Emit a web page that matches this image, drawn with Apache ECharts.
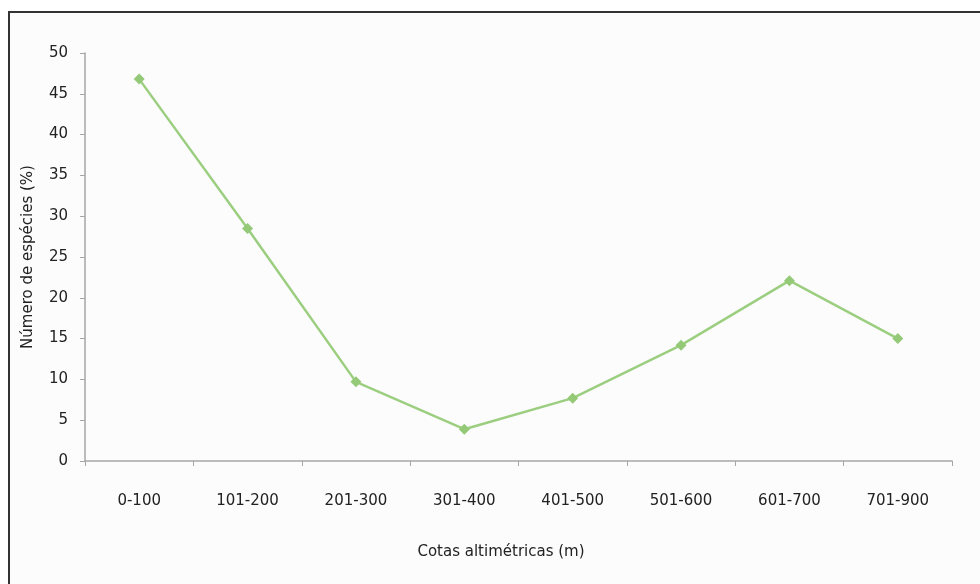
<!DOCTYPE html>
<html>
<head>
<meta charset="utf-8">
<script src="https://cdn.jsdelivr.net/npm/echarts@6/dist/echarts.min.js"></script>
<style>
  html, body { margin: 0; padding: 0; background: #ffffff; }
  #frame {
    position: absolute; left: 8px; top: 11px; width: 972px; height: 573px;
    border-left: 2px solid #333; border-top: 2px solid #333; box-sizing: border-box;
    background: #fcfcfc;
  }
  #chart { position: absolute; left: 0; top: 0; width: 980px; height: 584px; }
</style>
</head>
<body>
<div id="frame"></div>
<div id="chart"></div>
<script>
// Altitude bands and share of species in each band
const categories = ['0-100', '101-200', '201-300', '301-400', '401-500', '501-600', '601-700', '701-900'];
const speciesPct = [46.8, 28.5, 9.7, 3.9, 7.7, 14.2, 22.1, 15.0];
const yTicks = { min: 0, max: 50, interval: 5 };
const xTitle = 'Cotas altimétricas (m)';
const yTitle = 'Número de espécies (%)';

const font = 'DejaVu Sans, Verdana, sans-serif';
const chart = echarts.init(document.getElementById('chart'), null, { renderer: 'canvas' });
chart.setOption({
  animation: false,
  backgroundColor: 'transparent',
  grid: { left: 85, right: 28, top: 53, bottom: 123 },
  xAxis: {
    type: 'category',
    data: categories,
    boundaryGap: true,
    axisLine: { lineStyle: { color: '#a6a6a6', width: 1.5 } },
    axisTick: { show: true, length: 5, lineStyle: { color: '#a6a6a6' } },
    axisLabel: { color: '#222', fontFamily: font, fontSize: 15, margin: 33 },
    splitLine: { show: false }
  },
  yAxis: {
    type: 'value',
    min: yTicks.min, max: yTicks.max, interval: yTicks.interval,
    name: yTitle,
    nameLocation: 'middle',
    nameGap: 49,
    nameTextStyle: { color: '#222', fontFamily: font, fontSize: 15 },
    axisLine: { show: true, lineStyle: { color: '#a6a6a6', width: 1.5 } },
    axisTick: { show: true, length: 5, lineStyle: { color: '#a6a6a6' } },
    axisLabel: { color: '#222', fontFamily: font, fontSize: 15, margin: 17 },
    splitLine: { show: false }
  },
  graphic: [{
    type: 'text',
    x: 501, y: 552,
    style: {
      text: xTitle, fill: '#222', font: '15px ' + font,
      align: 'center', verticalAlign: 'middle'
    }
  }],
  series: [{
    type: 'line',
    data: speciesPct,
    symbol: 'diamond',
    symbolSize: 11,
    lineStyle: { color: '#9cce80', width: 2.5 },
    itemStyle: { color: '#93c977' }
  }]
});
</script>
</body>
</html>
